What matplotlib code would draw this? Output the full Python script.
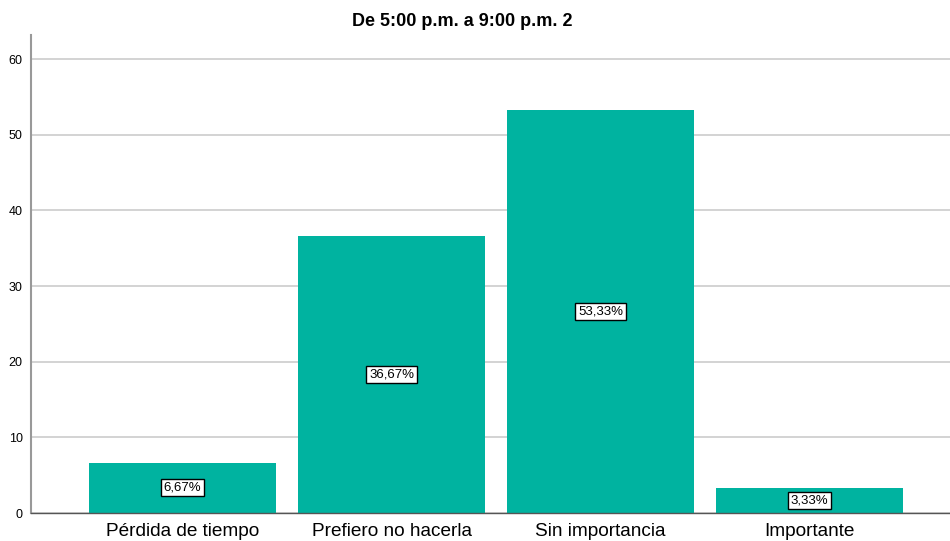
import matplotlib.pyplot as plt

categories = ['Pérdida de tiempo', 'Prefiero no hacerla', 'Sin importancia', 'Importante']
percents = [6.67, 36.67, 53.33, 3.33]
labels = ['6,67%', '36,67%', '53,33%', '3,33%']
yticks = [0, 10, 20, 30, 40, 50, 60]

plt.rcParams['font.family'] = ['Liberation Sans', 'DejaVu Sans']

fig = plt.figure(figsize=(9.5, 5.41), dpi=100)
ax = fig.add_axes([31 / 950, 1 - 513 / 541, 1 - 31 / 950, (513 - 35) / 541])

x = list(range(len(categories)))
ax.bar(x, percents, width=0.895, color='#00b3a0', zorder=2)
for xi, v, lab in zip(x, percents, labels):
    ax.text(xi, v / 2, lab, ha='center', va='center', fontsize=9.5, zorder=3,
            bbox=dict(boxstyle='square,pad=0.2', facecolor='white',
                      edgecolor='black', linewidth=1))

ax.set_xlim(-0.725, 3.672)
ax.set_ylim(0, 63.2)
ax.set_yticks(yticks)
ax.set_xticks(x)
ax.set_xticklabels(categories, fontsize=13.7)
ax.tick_params(axis='y', labelsize=9, length=0, pad=6)
ax.tick_params(axis='x', length=0, pad=7)
ax.yaxis.grid(True, color='#cccccc', linewidth=1.2, zorder=0)
ax.set_axisbelow(True)
for s in ['top', 'right']:
    ax.spines[s].set_visible(False)
ax.spines['left'].set_color('#999999')
ax.spines['left'].set_linewidth(1.5)
ax.spines['bottom'].set_color('#555555')
ax.spines['bottom'].set_linewidth(1)

fig.text(462 / 950, 1 - 22 / 541, 'De 5:00 p.m. a 9:00 p.m. 2', ha='center', va='center',
         fontsize=13, fontweight='bold')

fig.savefig('out.png', dpi=100)
